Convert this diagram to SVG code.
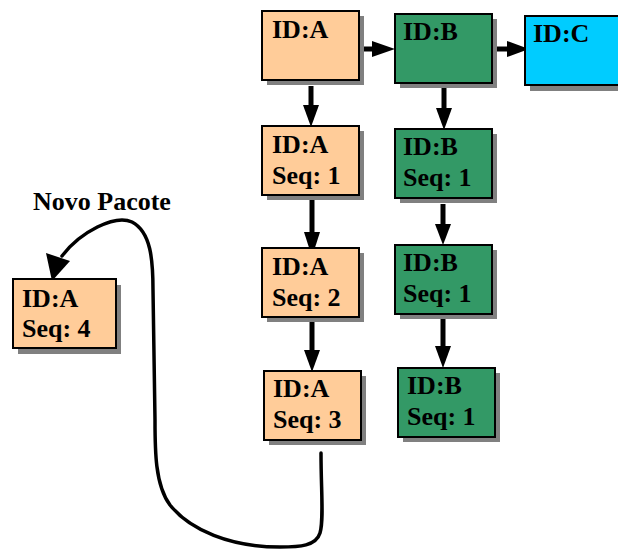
<svg xmlns="http://www.w3.org/2000/svg" width="618" height="549" viewBox="0 0 618 549">
<style>
.sh{fill:#808080}
.a{fill:#FFCC99;stroke:#000;stroke-width:2}
.b{fill:#339966;stroke:#000;stroke-width:2}
.c{fill:#00CCFF;stroke:#000;stroke-width:2}
text{font-family:"Liberation Serif","Times New Roman",serif;font-weight:bold;font-size:26px;fill:#000}
.ln{stroke:#000;stroke-width:5;fill:none}
.cv{stroke:#000;stroke-width:3.5;fill:none;stroke-linecap:round}
.ah{fill:#000}
</style>
<rect width="618" height="549" fill="#fff"/>
<g id="connectors">
<line class="ln" x1="359" y1="49" x2="374" y2="49"/><polygon class="ah" points="372,41 395,49 372,57"/>
<line class="ln" x1="497" y1="49" x2="509" y2="49"/><polygon class="ah" points="507,41 529,49 507,57"/>
<line class="ln" x1="311" y1="86" x2="311" y2="107"/><polygon class="ah" points="303,105 319,105 311,127"/>
<line class="ln" x1="444" y1="88" x2="444" y2="110"/><polygon class="ah" points="436,108 452,108 444,130"/>
<line class="ln" x1="312" y1="200" x2="312" y2="234"/><polygon class="ah" points="304,232 320,232 312,257"/>
<line class="ln" x1="443" y1="204" x2="443" y2="226"/><polygon class="ah" points="435,224 451,224 443,245"/>
<line class="ln" x1="312" y1="322" x2="312" y2="352"/><polygon class="ah" points="304,350 320,350 312,372"/>
<line class="ln" x1="443" y1="319" x2="443" y2="348"/><polygon class="ah" points="435,346 451,346 443,368"/>
<path class="cv" d="M321,453 C321,490 324,520 320,533 C316,546 300,547 280,547 C230,547 190,530 170,505 C155,485 155,450 155,420 L153,290 C153,260 151,232 132,222 C115,214 80,232 62,256"/>
<polygon class="ah" points="46,253 70,261 52,281"/>
</g>
<g id="A0"><rect class="sh" x="267" y="16" width="97" height="69"/><rect class="a" x="262" y="11" width="97" height="69"/><text x="272" y="38">ID:A</text></g>
<g id="B0"><rect class="sh" x="400" y="19" width="97" height="69"/><rect class="b" x="395" y="14" width="97" height="69"/><text x="403" y="40">ID:B</text></g>
<g id="C0"><rect class="sh" x="530" y="22" width="100" height="69"/><rect class="c" x="525" y="16" width="100" height="69"/><text x="533" y="42">ID:C</text></g>
<g id="A1"><rect class="sh" x="267" y="131" width="97" height="69"/><rect class="a" x="262" y="126" width="97" height="69"/><text x="272" y="153">ID:A</text><text x="272" y="184">Seq: 1</text></g>
<g id="B1"><rect class="sh" x="400" y="134" width="97" height="69"/><rect class="b" x="395" y="129" width="97" height="69"/><text x="403" y="155">ID:B</text><text x="403" y="186">Seq: 1</text></g>
<g id="A2"><rect class="sh" x="267" y="253" width="97" height="69"/><rect class="a" x="262" y="248" width="97" height="69"/><text x="272" y="275">ID:A</text><text x="272" y="306">Seq: 2</text></g>
<g id="B2"><rect class="sh" x="400" y="250" width="97" height="69"/><rect class="b" x="395" y="245" width="97" height="69"/><text x="403" y="271">ID:B</text><text x="403" y="302">Seq: 1</text></g>
<g id="A3"><rect class="sh" x="269" y="376" width="97" height="69"/><rect class="a" x="264" y="371" width="97" height="69"/><text x="273" y="397">ID:A</text><text x="273" y="428">Seq: 3</text></g>
<g id="B3"><rect class="sh" x="403" y="373" width="97" height="69"/><rect class="b" x="398" y="368" width="97" height="69"/><text x="407" y="394">ID:B</text><text x="407" y="425">Seq: 1</text></g>
<g id="A4"><rect class="sh" x="18" y="285" width="103" height="69"/><rect class="a" x="13" y="279" width="103" height="69"/><text x="22" y="307">ID:A</text><text x="22" y="337">Seq: 4</text></g>
<text x="33" y="210">Novo Pacote</text>
</svg>
